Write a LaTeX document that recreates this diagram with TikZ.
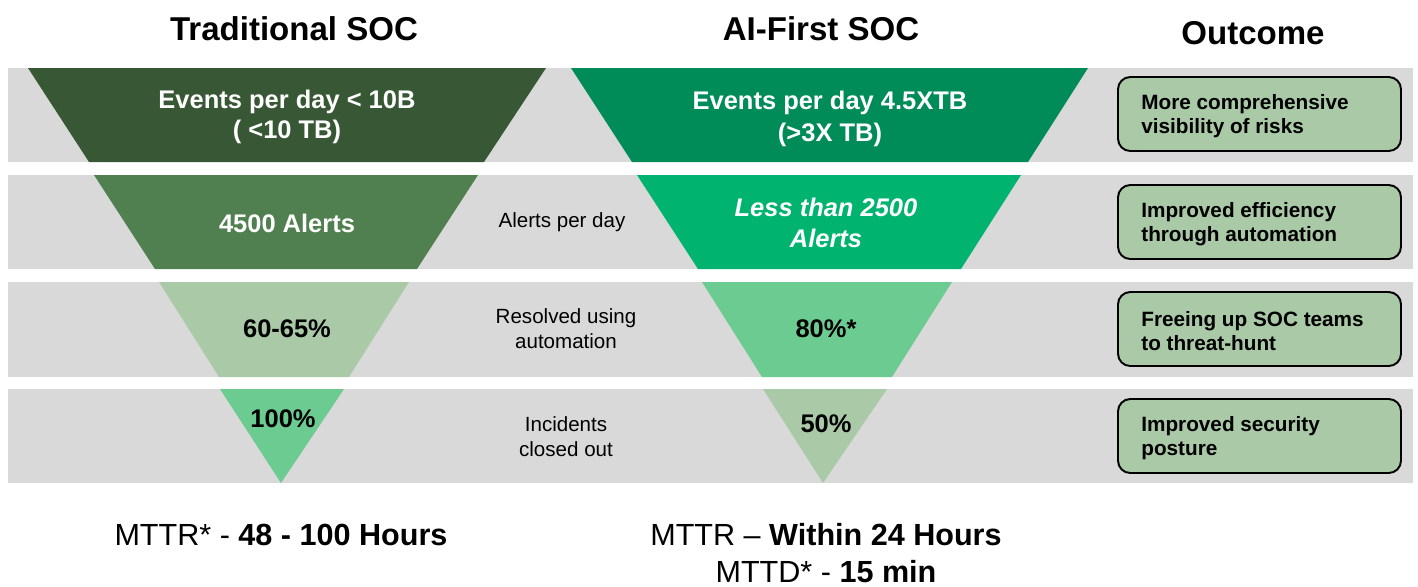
\documentclass[tikz,border=0pt]{standalone}
\usepackage{fontspec}
\setmainfont{Liberation Sans}
\definecolor{bandgrey}{HTML}{D9D9D9}
\definecolor{tradone}{HTML}{385835}
\definecolor{tradtwo}{HTML}{50804F}
\definecolor{sage}{HTML}{A9C9A7}
\definecolor{mint}{HTML}{6CCB90}
\definecolor{aione}{HTML}{008C59}
\definecolor{aitwo}{HTML}{00B36E}

\begin{document}
\begin{tikzpicture}[x=0.02cm,y=-0.02cm,
  head/.style={font=\bfseries\fontsize{18.8}{22}\selectfont, anchor=base, inner sep=0},
  big/.style={font=\bfseries\fontsize{14.5}{17}\selectfont, align=center, inner sep=0},
  mid/.style={font=\fontsize{11.7}{14.2}\selectfont, align=center, inner sep=0},
  outbox/.style={draw=black, line width=1.1pt, fill=sage, rounded corners=7pt},
  outtxt/.style={font=\bfseries\fontsize{11.8}{13.9}\selectfont, align=left, anchor=west, inner sep=0},
  foot/.style={font=\fontsize{17.4}{21}\selectfont, anchor=base, inner sep=0}]
\useasboundingbox (0,0) rectangle (1418,586);

\fill[bandgrey] (8,68) rectangle (1413,162);
\fill[bandgrey] (8,175) rectangle (1413,269);
\fill[bandgrey] (8,282) rectangle (1413,377);
\fill[bandgrey] (8,389) rectangle (1413,483);

\fill[tradone] (28,68) -- (546,68) -- (484,162) -- (89,162) -- cycle;
\fill[tradtwo] (94,175) -- (478,175) -- (417,269) -- (155,269) -- cycle;
\fill[sage] (159,282) -- (409,282) -- (349,377) -- (219,377) -- cycle;
\fill[mint] (220,389) -- (344,389) -- (281,483) -- cycle;

\fill[aione] (571,68) -- (1088,68) -- (1028,162) -- (632,162) -- cycle;
\fill[aitwo] (637,175) -- (1021,175) -- (961,269) -- (698,269) -- cycle;
\fill[mint] (702,282) -- (952,282) -- (892,377) -- (762,377) -- cycle;
\fill[sage] (763,389) -- (887,389) -- (823,483) -- cycle;

\draw[outbox] (1118,77) rectangle (1401,151);
\draw[outbox] (1118,185) rectangle (1401,259);
\draw[outbox] (1118,292) rectangle (1401,366);
\draw[outbox] (1118,399) rectangle (1401,473);

\node[head] (trad) at (294,40) {Traditional SOC};
\node[head] (aifirst) at (821,40) {AI-First SOC};
\node[head] (outcome) at (1253,44) {Outcome};

\node[big, text=white] (eventsA) at (287,117) {Events per day < 10B\\( <10 TB)};
\node[big, text=white, font=\bfseries\fontsize{14.5}{18}\selectfont] (eventsB) at (830,119) {Events per day 4.5XTB\\(>3X TB)};
\node[big, text=white] (alertsA) at (287,223) {4500 Alerts};
\node[mid] (alertsday) at (562,222) {Alerts per day};
\node[big, text=white, font=\bfseries\itshape\fontsize{14.5}{18}\selectfont] (alertsB) at (826,223) {Less than 2500\\Alerts};
\node[big] (resolvedA) at (287,329) {60-65\%};
\node[mid] (resolved) at (566,329) {Resolved using\\automation};
\node[big] (resolvedB) at (826,329) {80\%*};
\node[big] (closedA) at (283,419) {100\%};
\node[mid] (closed) at (566,437) {Incidents\\closed out};
\node[big] (closedB) at (826,424) {50\%};

\node[outtxt] (risks) at (1141,116) {More comprehensive\\visibility of risks};
\node[outtxt] (efficiency) at (1141,224) {Improved efficiency\\through automation};
\node[outtxt] (hunt) at (1141,331) {Freeing up SOC teams\\to threat-hunt};
\node[outtxt] (posture) at (1141,438) {Improved security\\posture};

\node[foot] (mttrA) at (281,545) {MTTR* - \textbf{48 - 100 Hours}};
\node[foot] (mttrB) at (826,545) {MTTR – \textbf{Within 24 Hours}};
\node[foot] (mttd) at (826,582) {MTTD* - \textbf{15 min}};
\end{tikzpicture}
\end{document}
